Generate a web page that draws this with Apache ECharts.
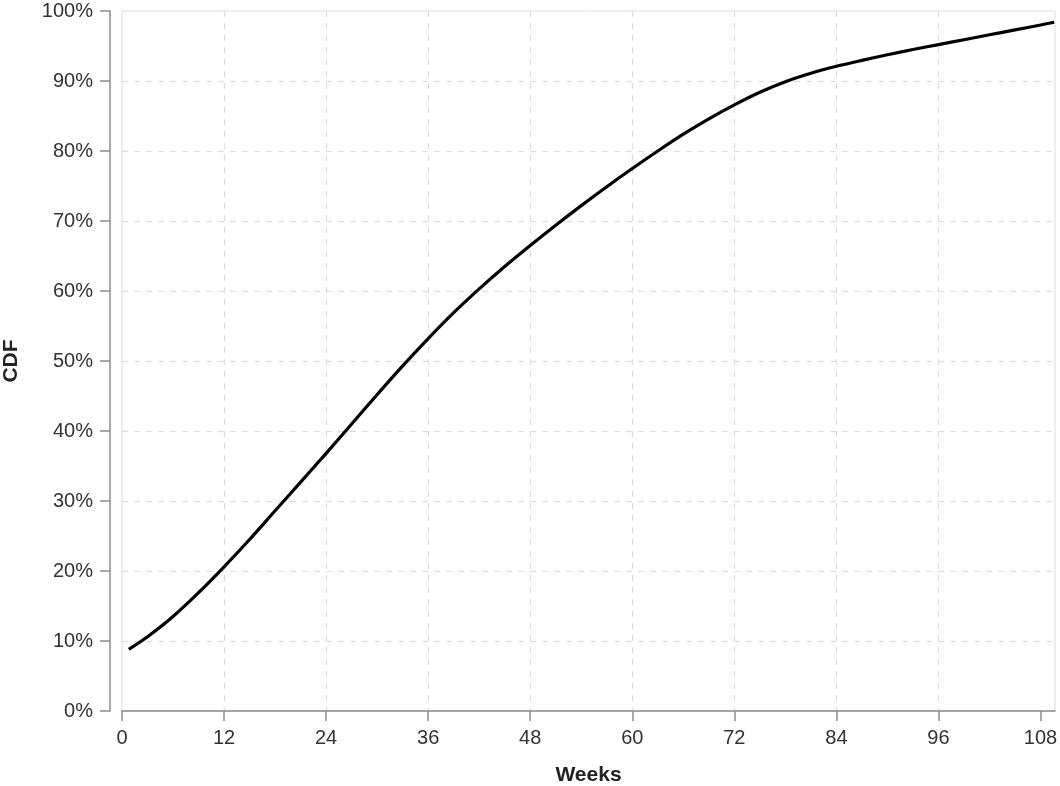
<!DOCTYPE html>
<html>
<head>
<meta charset="utf-8">
<script src="https://cdn.jsdelivr.net/npm/echarts@6/dist/echarts.min.js"></script>
<style>
html,body{margin:0;padding:0;background:#fff;}
#chart{width:1060px;height:786px;}
</style>
</head>
<body>
<div id="chart"></div>
<script>
// Data
const weeks = [0.8, 3, 6, 9, 12, 15, 18, 21, 24, 27, 30, 33, 36, 39, 42, 45, 48, 51, 54, 57, 60, 63, 66, 69, 72, 75, 78, 81, 84, 87, 90, 93, 96, 99, 102, 105, 108, 109.6];
const cdfPercent = [8.8, 10.6, 13.5, 16.9, 20.6, 24.5, 28.6, 32.7, 36.8, 41.0, 45.2, 49.3, 53.2, 56.9, 60.3, 63.5, 66.5, 69.4, 72.2, 74.9, 77.5, 80.0, 82.4, 84.6, 86.6, 88.4, 89.9, 91.1, 92.1, 92.95, 93.75, 94.5, 95.2, 95.9, 96.6, 97.3, 98.0, 98.4];
const xTicks = [0, 12, 24, 36, 48, 60, 72, 84, 96, 108];
const yTicks = [0, 10, 20, 30, 40, 50, 60, 70, 80, 90, 100];
const xName = 'Weeks';
const yName = 'CDF';

const seriesData = weeks.map((w, i) => [w, cdfPercent[i]]);
const font = 'Liberation Sans, Arial, Helvetica, sans-serif';

const chart = echarts.init(document.getElementById('chart'), null, {renderer: 'canvas'});
chart.setOption({
  animation: false,
  backgroundColor: '#ffffff',
  grid: {
    left: 122, right: 5, top: 11, bottom: 75,
    containLabel: false,
    outerBoundsMode: 'none',
    show: true, borderColor: '#dcdcdc', borderWidth: 1, backgroundColor: 'transparent'
  },
  xAxis: {
    type: 'value',
    min: 0, max: 109.7,
    name: xName,
    nameLocation: 'middle',
    nameGap: 54,
    nameTextStyle: {fontFamily: font, fontSize: 21, fontWeight: 'bold', color: '#222'},
    axisLine: {show: true, onZero: false, lineStyle: {color: '#8c8c8c', width: 1.5}},
    axisTick: {show: true, length: 10, lineStyle: {color: '#8c8c8c', width: 1.5}, customValues: xTicks},
    axisLabel: {fontFamily: font, fontSize: 20, color: '#333', margin: 17, customValues: xTicks},
    splitLine: {show: true, showMinLine: false, showMaxLine: false, lineStyle: {color: '#dddddd', type: [6, 6], width: 1.2}}
  },
  yAxis: {
    type: 'value',
    min: 0, max: 100, interval: 10,
    offset: 12,
    name: yName,
    nameLocation: 'middle',
    nameGap: 88,
    nameTextStyle: {fontFamily: font, fontSize: 21, fontWeight: 'bold', color: '#222'},
    axisLine: {show: true, onZero: false, lineStyle: {color: '#8c8c8c', width: 1.5}},
    axisTick: {show: true, length: 10, lineStyle: {color: '#8c8c8c', width: 1.5}, customValues: yTicks},
    axisLabel: {fontFamily: font, fontSize: 20, color: '#333', margin: 17, formatter: v => v + '%', customValues: yTicks},
    splitLine: {show: true, showMinLine: false, showMaxLine: false, lineStyle: {color: '#dddddd', type: [6, 6], width: 1.2}}
  },
  series: [{
    type: 'line',
    data: seriesData,
    smooth: 0.3,
    showSymbol: false,
    lineStyle: {color: '#000000', width: 3.2},
    z: 5
  }]
});
</script>
</body>
</html>
